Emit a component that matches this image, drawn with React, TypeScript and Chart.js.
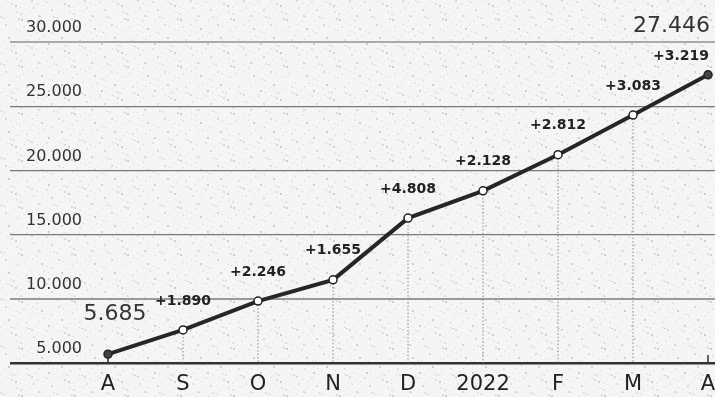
import React, { useEffect, useRef } from "react";
import { Chart, registerables } from "chart.js";

Chart.register(...registerables);

// ---- data ----
const categories = ["A", "S", "O", "N", "D", "2022", "F", "M", "A"];
const totals = [5685, 7575, 9821, 11476, 16284, 18412, 21224, 24307, 27446];
const increments = ["", "+1.890", "+2.246", "+1.655", "+4.808", "+2.128", "+2.812", "+3.083", "+3.219"];
const yTickValues = [5000, 10000, 15000, 20000, 25000, 30000];
const startLabel = "5.685";
const endLabel = "27.446";

const FONT = '"DejaVu Sans", sans-serif';

const fmt = (n: number) => String(Math.round(n)).replace(/\B(?=(\d{3})+(?!\d))/g, ".");

function makeSpeckle(): HTMLCanvasElement {
  const c = document.createElement("canvas");
  const W = 53, H = 47;
  c.width = W;
  c.height = H;
  const g = c.getContext("2d")!;
  g.fillStyle = "#f5f5f5";
  g.fillRect(0, 0, W, H);
  const shades = ["#d9d9d9", "#e2e2e2", "#cfcfcf", "#e6e6e6"];
  for (let k = 0; k < 70; k++) {
    const x = (k * 37 + 11) % W;
    const y = (k * 29 + (k % 7) * 5 + 3) % H;
    g.fillStyle = shades[k % shades.length];
    const s = k % 3 === 0 ? 2 : 1;
    g.fillRect(x, y, s, s);
  }
  return c;
}

const bgPlugin = {
  id: "bg",
  beforeDraw(chart: any) {
    const { ctx, width, height } = chart;
    ctx.save();
    const pat = ctx.createPattern(makeSpeckle(), "repeat");
    ctx.fillStyle = pat || "#f2f2f2";
    ctx.fillRect(0, 0, width, height);
    ctx.restore();
  },
};

const dropPlugin = {
  id: "drop",
  beforeDatasetsDraw(chart: any) {
    const { ctx } = chart;
    const meta = chart.getDatasetMeta(0);
    const bottom = chart.chartArea.bottom;
    ctx.save();
    meta.data.forEach((pt: any, i: number) => {
      const edge = i === 0 || i === meta.data.length - 1;
      ctx.beginPath();
      if (edge) {
        ctx.setLineDash([]);
        ctx.strokeStyle = "#333";
        ctx.lineWidth = 1.5;
        ctx.moveTo(pt.x, bottom - 8);
      } else {
        ctx.setLineDash([1.5, 2]);
        ctx.strokeStyle = "#8a8a8a";
        ctx.lineWidth = 1;
        ctx.moveTo(pt.x, pt.y);
      }
      ctx.lineTo(pt.x, bottom);
      ctx.stroke();
    });
    ctx.restore();
  },
};

const labelPlugin = {
  id: "labels",
  afterDatasetsDraw(chart: any) {
    const { ctx, chartArea } = chart;
    const meta = chart.getDatasetMeta(0);
    const n = meta.data.length;
    ctx.save();
    ctx.fillStyle = "#222";
    ctx.textBaseline = "middle";
    ctx.font = `bold 14px ${FONT}`;
    meta.data.forEach((pt: any, i: number) => {
      const txt = increments[i];
      if (!txt) return;
      if (i === n - 1) {
        ctx.textAlign = "right";
        ctx.fillText(txt, chartArea.right - 6, pt.y - 18);
      } else {
        ctx.textAlign = "center";
        ctx.fillText(txt, pt.x, pt.y - 29);
      }
    });
    ctx.fillStyle = "#333";
    ctx.font = `22px ${FONT}`;
    const p0 = meta.data[0];
    ctx.textAlign = "center";
    ctx.fillText(startLabel, p0.x + 7, p0.y - 40);
    const pl = meta.data[n - 1];
    ctx.textAlign = "right";
    ctx.fillText(endLabel, chartArea.right - 5, pl.y - 49);
    ctx.restore();
  },
};

export default function App() {
  const ref = useRef<HTMLCanvasElement | null>(null);

  useEffect(() => {
    document.body.style.margin = "0";
    if (!ref.current) return;
    const last = totals.length - 1;
    const chart = new Chart(ref.current, {
      type: "line",
      data: {
        datasets: [
          {
            data: totals.map((v, i) => ({ x: i, y: v })),
            borderColor: "#262626",
            borderWidth: 4,
            tension: 0,
            pointRadius: 4,
            pointHoverRadius: 4,
            pointBorderWidth: 1.5,
            pointBorderColor: "#222",
            pointBackgroundColor: (c: any) =>
              c.dataIndex === 0 || c.dataIndex === last ? "#444" : "#ffffff",
          },
        ],
      },
      options: {
        animation: false,
        responsive: false,
        devicePixelRatio: 1,
        layout: { autoPadding: false, padding: { top: 42, left: 0, right: 0, bottom: 0 } },
        plugins: { legend: { display: false }, tooltip: { enabled: false } },
        scales: {
          x: {
            type: "linear",
            min: -1.307,
            max: 8.093,
            grid: { display: false, drawTicks: false },
            border: { display: false },
            afterBuildTicks: (scale: any) => {
              scale.ticks = categories.map((_, i) => ({ value: i }));
            },
            afterFit: (scale: any) => {
              scale.height = 34;
              scale.paddingLeft = 0;
              scale.paddingRight = 0;
            },
            ticks: {
              autoSkip: false,
              maxRotation: 0,
              padding: 9,
              color: "#222",
              font: { family: FONT, size: 21 },
              callback: (v: any) => categories[v as number] ?? "",
            },
          },
          y: {
            type: "linear",
            min: 5000,
            max: 30000,
            border: { display: false },
            afterBuildTicks: (scale: any) => {
              scale.ticks = yTickValues.map((v) => ({ value: v }));
            },
            afterFit: (scale: any) => {
              scale.width = 10;
              scale.paddingTop = 0;
              scale.paddingBottom = 0;
            },
            grid: {
              drawTicks: false,
              color: (c: any) => {
                const v = c.tick?.value;
                if (v === 5000) return "#333";
                if (v === 30000) return "#aaaaaa";
                if (v === 10000) return "#9a9a9a";
                return "#7a7a7a";
              },
              lineWidth: (c: any) => {
                const v = c.tick?.value;
                if (v === 5000) return 2.5;
                if (v === 30000 || v === 10000) return 2;
                return 1.2;
              },
            },
            ticks: {
              mirror: true,
              crossAlign: "far",
              padding: 16,
              labelOffset: -14,
              color: "#333",
              font: { family: FONT, size: 16 },
              callback: (v: any) => fmt(Number(v)),
            },
          },
        },
      } as any,
      plugins: [bgPlugin, dropPlugin, labelPlugin],
    });
    return () => chart.destroy();
  }, []);

  return (
    <canvas
      ref={ref}
      width={715}
      height={397}
      style={{ display: "block", width: 715, height: 397 }}
    />
  );
}
